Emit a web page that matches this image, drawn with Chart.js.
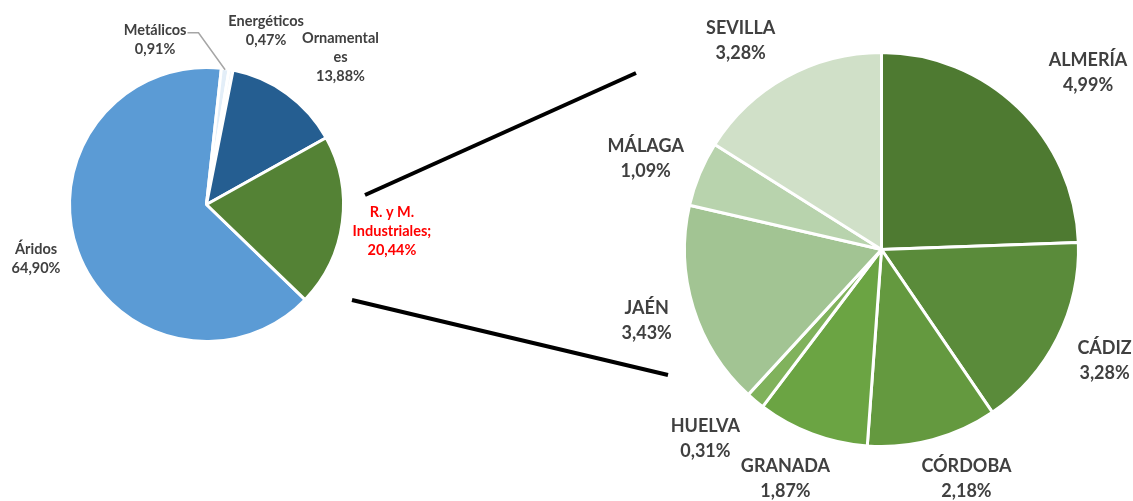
<!DOCTYPE html>
<html>
<head>
<meta charset="utf-8">
<script src="https://cdn.jsdelivr.net/npm/chart.js@4.4.1/dist/chart.umd.min.js"></script>
<style>
  html, body { margin: 0; padding: 0; background: #fff; }
  #wrap { position: relative; width: 1133px; height: 501px; }
  #wrap canvas { position: absolute; left: 0; top: 0; }
</style>
</head>
<body>
<div id="wrap">
  <canvas id="sectorChart" width="1133" height="501"></canvas>
  <canvas id="provinceChart" width="1133" height="501"></canvas>
</div>
<script>
// Left pie: share by sector
const sectorLabels = ['Áridos', 'Metálicos', 'Energéticos', 'Ornamentales', 'R. y M. Industriales'];
const sectorValues = [64.90, 0.91, 0.47, 13.88, 20.44];
const sectorText = [['Áridos', '64,90%'], ['Metálicos', '0,91%'], ['Energéticos', '0,47%'],
                    ['Ornamental', 'es', '13,88%'], ['R. y M.', 'Industriales;', '20,44%']];

// Right pie: R. y M. Industriales by province
const provinceLabels = ['ALMERÍA', 'CÁDIZ', 'CÓRDOBA', 'GRANADA', 'HUELVA', 'JAÉN', 'MÁLAGA', 'SEVILLA'];
const provinceValues = [4.99, 3.28, 2.18, 1.87, 0.31, 3.43, 1.09, 3.28];
const provinceText = ['4,99%', '3,28%', '2,18%', '1,87%', '0,31%', '3,43%', '1,09%', '3,28%'];

const sectorColors = ['#5b9bd5', '#e3eef8', '#f1f6fb', '#255e91', '#548235'];
const provinceColors = ['#4e7a31', '#5a8b3a', '#64993f', '#6ba443', '#80b25c', '#a2c493', '#b8d3ad', '#d0e0c8'];

// label placement: extra distance beyond the radius, plus small nudges
const sectorLabelGap = [40, 50, 50, 50, 50];
const sectorNudge = [[-4, -6], [-77, 21], [26, 10], [24, 4], [0, 3]];
const provinceNudge = [[33, 3], [0, -2], [20, -12], [-8, -5], [-16, -3], [4, -3], [-5, 5], [-20, 10]];

const textColor = '#404040';

function arcPoint(arc, dist) {
  const mid = (arc.startAngle + arc.endAngle) / 2;
  return { x: arc.x + Math.cos(mid) * dist, y: arc.y + Math.sin(mid) * dist };
}

const labelPlugin = {
  id: 'sliceLabels',
  afterDraw(chart, args, opts) {
    const ctx = chart.ctx;
    const arcs = chart.getDatasetMeta(0).data;
    ctx.save();
    ctx.textAlign = 'center';
    ctx.textBaseline = 'middle';
    arcs.forEach((arc, i) => {
      const lines = opts.lines(i);
      const gap = opts.gap ? opts.gap[i] : opts.dist;
      const p = arcPoint(arc, arc.outerRadius + gap);
      const nx = p.x + opts.nudge[i][0];
      const ny = p.y + opts.nudge[i][1];
      ctx.font = opts.font;
      ctx.fillStyle = opts.colors ? opts.colors[i] : textColor;
      const top = ny - (lines.length - 1) * opts.lineHeight / 2;
      lines.forEach((t, k) => ctx.fillText(t, nx, top + k * opts.lineHeight));
      if (opts.leader && opts.leader === i) {
        const w = ctx.measureText(lines[0]).width;
        const tip = arcPoint(arc, arc.outerRadius - 1);
        ctx.strokeStyle = '#a6a6a6';
        ctx.lineWidth = 1.5;
        ctx.beginPath();
        ctx.moveTo(nx + w / 2 + 1, top + 2);
        ctx.lineTo(nx + w / 2 + 12, top + 2);
        ctx.lineTo(tip.x, tip.y);
        ctx.stroke();
      }
    });
    ctx.restore();
  }
};

const connectorPlugin = {
  id: 'connectors',
  afterDraw(chart, args, opts) {
    const ctx = chart.ctx;
    ctx.save();
    ctx.strokeStyle = '#000';
    ctx.lineWidth = 4;
    opts.segments.forEach(s => {
      ctx.beginPath();
      ctx.moveTo(s[0], s[1]);
      ctx.lineTo(s[2], s[3]);
      ctx.stroke();
    });
    ctx.restore();
  }
};

new Chart(document.getElementById('sectorChart'), {
  type: 'pie',
  data: {
    labels: sectorLabels,
    datasets: [{
      data: sectorValues,
      backgroundColor: sectorColors,
      borderColor: '#fff',
      borderWidth: 3
    }]
  },
  options: {
    responsive: false,
    animation: false,
    rotation: 134,
    layout: { padding: { left: 68, top: 66, right: 788, bottom: 158 } },
    plugins: {
      legend: { display: false },
      tooltip: { enabled: false },
      sliceLabels: {
        lines: i => sectorText[i],
        gap: sectorLabelGap,
        nudge: sectorNudge,
        font: 'bold 14.5px Lato',
        lineHeight: 19,
        leader: 1,
        colors: [textColor, textColor, textColor, textColor, '#ff0000']
      }
    }
  },
  plugins: [labelPlugin]
});

new Chart(document.getElementById('provinceChart'), {
  type: 'pie',
  data: {
    labels: provinceLabels,
    datasets: [{
      data: provinceValues,
      backgroundColor: provinceColors,
      borderColor: '#fff',
      borderWidth: 3
    }]
  },
  options: {
    responsive: false,
    animation: false,
    layout: { padding: { left: 683, top: 51, right: 53, bottom: 53 } },
    plugins: {
      legend: { display: false },
      tooltip: { enabled: false },
      sliceLabels: {
        lines: i => [provinceLabels[i], provinceText[i]],
        dist: 53,
        nudge: provinceNudge,
        font: 'bold 18px Lato',
        lineHeight: 25
      },
      connectors: {
        segments: [[365, 195, 636, 73], [352, 300, 668, 375]]
      }
    }
  },
  plugins: [labelPlugin, connectorPlugin]
});
</script>
</body>
</html>
